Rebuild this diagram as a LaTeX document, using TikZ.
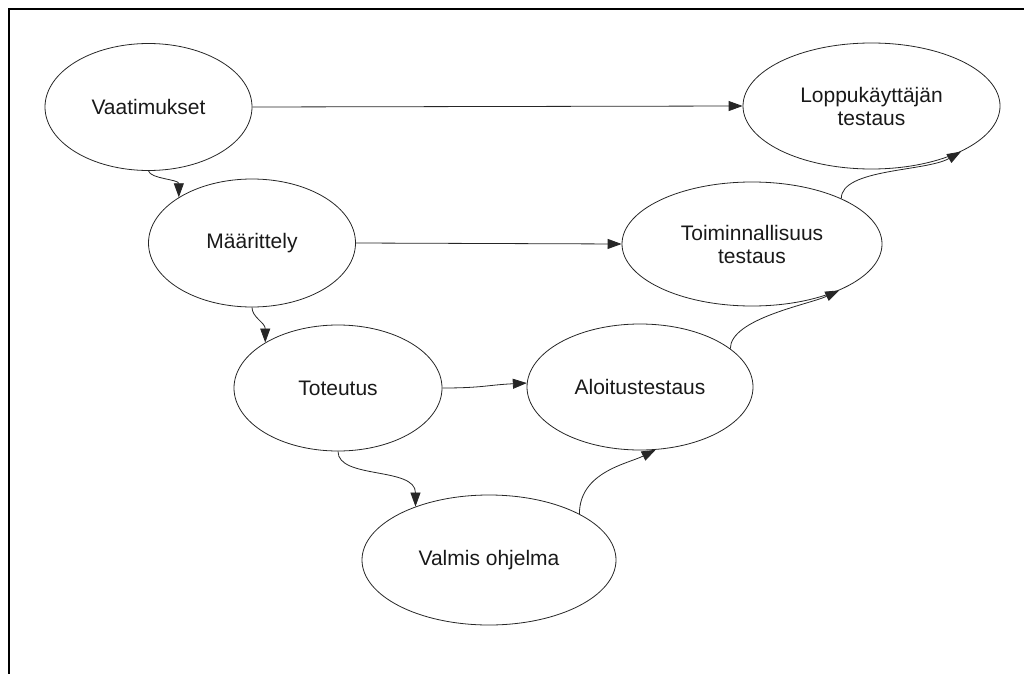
\documentclass[tikz,border=0pt]{standalone}
\usepackage{fontspec}
\setmainfont{Liberation Sans}
\usetikzlibrary{arrows.meta,shapes.geometric}
\begin{document}
\begin{tikzpicture}[x=1pt,y=-1pt,
  stage/.style={draw=black!85,line width=0.8pt,ellipse,inner sep=0pt,align=center,
    font=\fontsize{21}{23}\selectfont,text=black!90},
  conn/.style={draw=black!85,line width=0.8pt,-{Triangle[length=14pt,width=10pt]}},
  frame/.style={draw=black,line width=2.5pt}]
\useasboundingbox (0,0) rectangle (1024,674);
\draw[frame] (1024,9) -- (9,9) -- (9,674);
\node[stage,minimum width=207pt,minimum height=127pt] (vaat) at (148.5,107) {Vaatimukset};
\node[stage,minimum width=207pt,minimum height=128pt] (maar) at (252,243) {Määrittely};
\node[stage,minimum width=208pt,minimum height=126pt] (tot) at (338,388) {Toteutus};
\node[stage,minimum width=254pt,minimum height=130pt] (val) at (489,560) {Valmis ohjelma};
\node[stage,minimum width=226pt,minimum height=126pt] (alo) at (640,387) {Aloitustestaus};
\node[stage,minimum width=260pt,minimum height=124pt] (toim) at (752,244) {Toiminnallisuus\\testaus};
\node[stage,minimum width=257pt,minimum height=126pt] (lopp) at (871.5,106) {Loppukäyttäjän\\testaus};
\draw[conn] (vaat.east) -- (lopp.west);
\draw[conn] (maar.east) -- (toim.west);
\draw[conn] (vaat.-90) .. controls +(2,8) and +(0,-18) .. (maar.148);
\draw[conn] (maar.-90) .. controls +(0,10) and +(0,-20) .. (tot.148);
\draw[conn] (tot.-90) .. controls +(0,28) and +(0,-40) .. (val.144);
\draw[conn] (tot.east) .. controls +(40,0) and +(-40,2) .. (alo.178);
\draw[conn] (val.27) .. controls +(0,-42) and +(-28,14) .. (alo.-76);
\draw[conn] (alo.23) .. controls +(0,-30) and +(-30,14) .. (toim.-28);
\draw[conn] (toim.27) .. controls +(0,-30) and +(-35,20) .. (lopp.-27.5);
\end{tikzpicture}
\end{document}
